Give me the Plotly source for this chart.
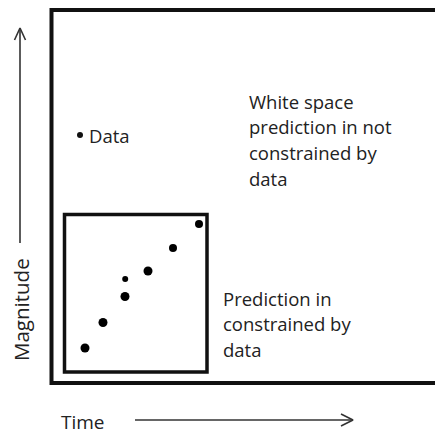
import plotly.graph_objects as go

# Observations (time, magnitude) in arbitrary units
time = [3.35, 5.15, 7.35, 7.37, 9.65, 12.15, 14.75]
magnitude = [3.5, 6.05, 8.65, 10.4, 11.2, 13.5, 15.9]
dot_size = [9, 9, 9, 6, 9, 8, 8]

# Key entry position (time, magnitude)
key_pos = (2.85, 24.8)

# Region bounds
outer_box = dict(x0=0.0, x1=45.0, y0=0.0, y1=37.3)
inner_box = dict(x0=1.3, x1=15.55, y0=1.1, y1=16.85)

upper_note = ["White space", "prediction in not", "constrained by", "data"]
lower_note = ["Prediction in", "constrained by", "data"]

TEXT = "#222222"
FONT = "Open Sans"
SIZE = 18.5

fig = go.Figure()

fig.add_trace(go.Scatter(
    x=time, y=magnitude, mode="markers",
    marker=dict(size=dot_size, color="#000000", opacity=1, line=dict(width=0)),
    showlegend=False, hoverinfo="skip",
))

# Key marker for the "Data" label
fig.add_trace(go.Scatter(
    x=[key_pos[0]], y=[key_pos[1]], mode="markers",
    marker=dict(size=6, color="#111111", line=dict(width=0)),
    showlegend=False, hoverinfo="skip",
))

# Boxes
fig.add_shape(type="rect", **outer_box, line=dict(color="#111111", width=4))
fig.add_shape(type="rect", **inner_box, line=dict(color="#111111", width=3.5))

# Axis arrows
arrow_col = "#333333"
ax_x = -3.15
fig.add_shape(type="line", x0=ax_x, x1=ax_x, y0=14.0, y1=35.5,
              line=dict(color=arrow_col, width=1.6))
fig.add_trace(go.Scatter(x=[ax_x - 0.55, ax_x, ax_x + 0.55], y=[34.3, 35.5, 34.3],
                         mode="lines", line=dict(color=arrow_col, width=1.6),
                         showlegend=False, hoverinfo="skip"))
ax_y = -3.7
fig.add_shape(type="line", x0=8.35, x1=30.15, y0=ax_y, y1=ax_y,
              line=dict(color=arrow_col, width=1.6))
fig.add_trace(go.Scatter(x=[28.95, 30.15, 28.95], y=[ax_y + 0.6, ax_y, ax_y - 0.6],
                         mode="lines", line=dict(color=arrow_col, width=1.6),
                         showlegend=False, hoverinfo="skip"))

def note(x, y, text, size=SIZE, **kw):
    fig.add_annotation(x=x, y=y, xref="x", yref="y", text=text, showarrow=False,
                       xanchor="left", yanchor="middle", borderpad=0,
                       font=dict(family=FONT, size=size, color=TEXT), **kw)

for i, line in enumerate(upper_note):
    note(19.65, 28.2 - 2.57 * i, line)
for i, line in enumerate(lower_note):
    note(17.05, 8.5 - 2.55 * i, line)

note(key_pos[0] + 0.8, key_pos[1], "Data")
note(0.8, -3.85, "Time", size=19)
fig.add_annotation(x=-3.05, y=7.3, xref="x", yref="y", text="Magnitude",
                   showarrow=False, textangle=-90, borderpad=0,
                   font=dict(family=FONT, size=20.5, color=TEXT))

fig.update_layout(
    width=435, height=435, margin=dict(l=0, r=0, t=0, b=0),
    paper_bgcolor="white", plot_bgcolor="white",
    xaxis=dict(range=[-5.15, 38.35], visible=False, fixedrange=True),
    yaxis=dict(range=[-5.2, 38.3], visible=False, fixedrange=True),
)

fig.write_html("out.html")
